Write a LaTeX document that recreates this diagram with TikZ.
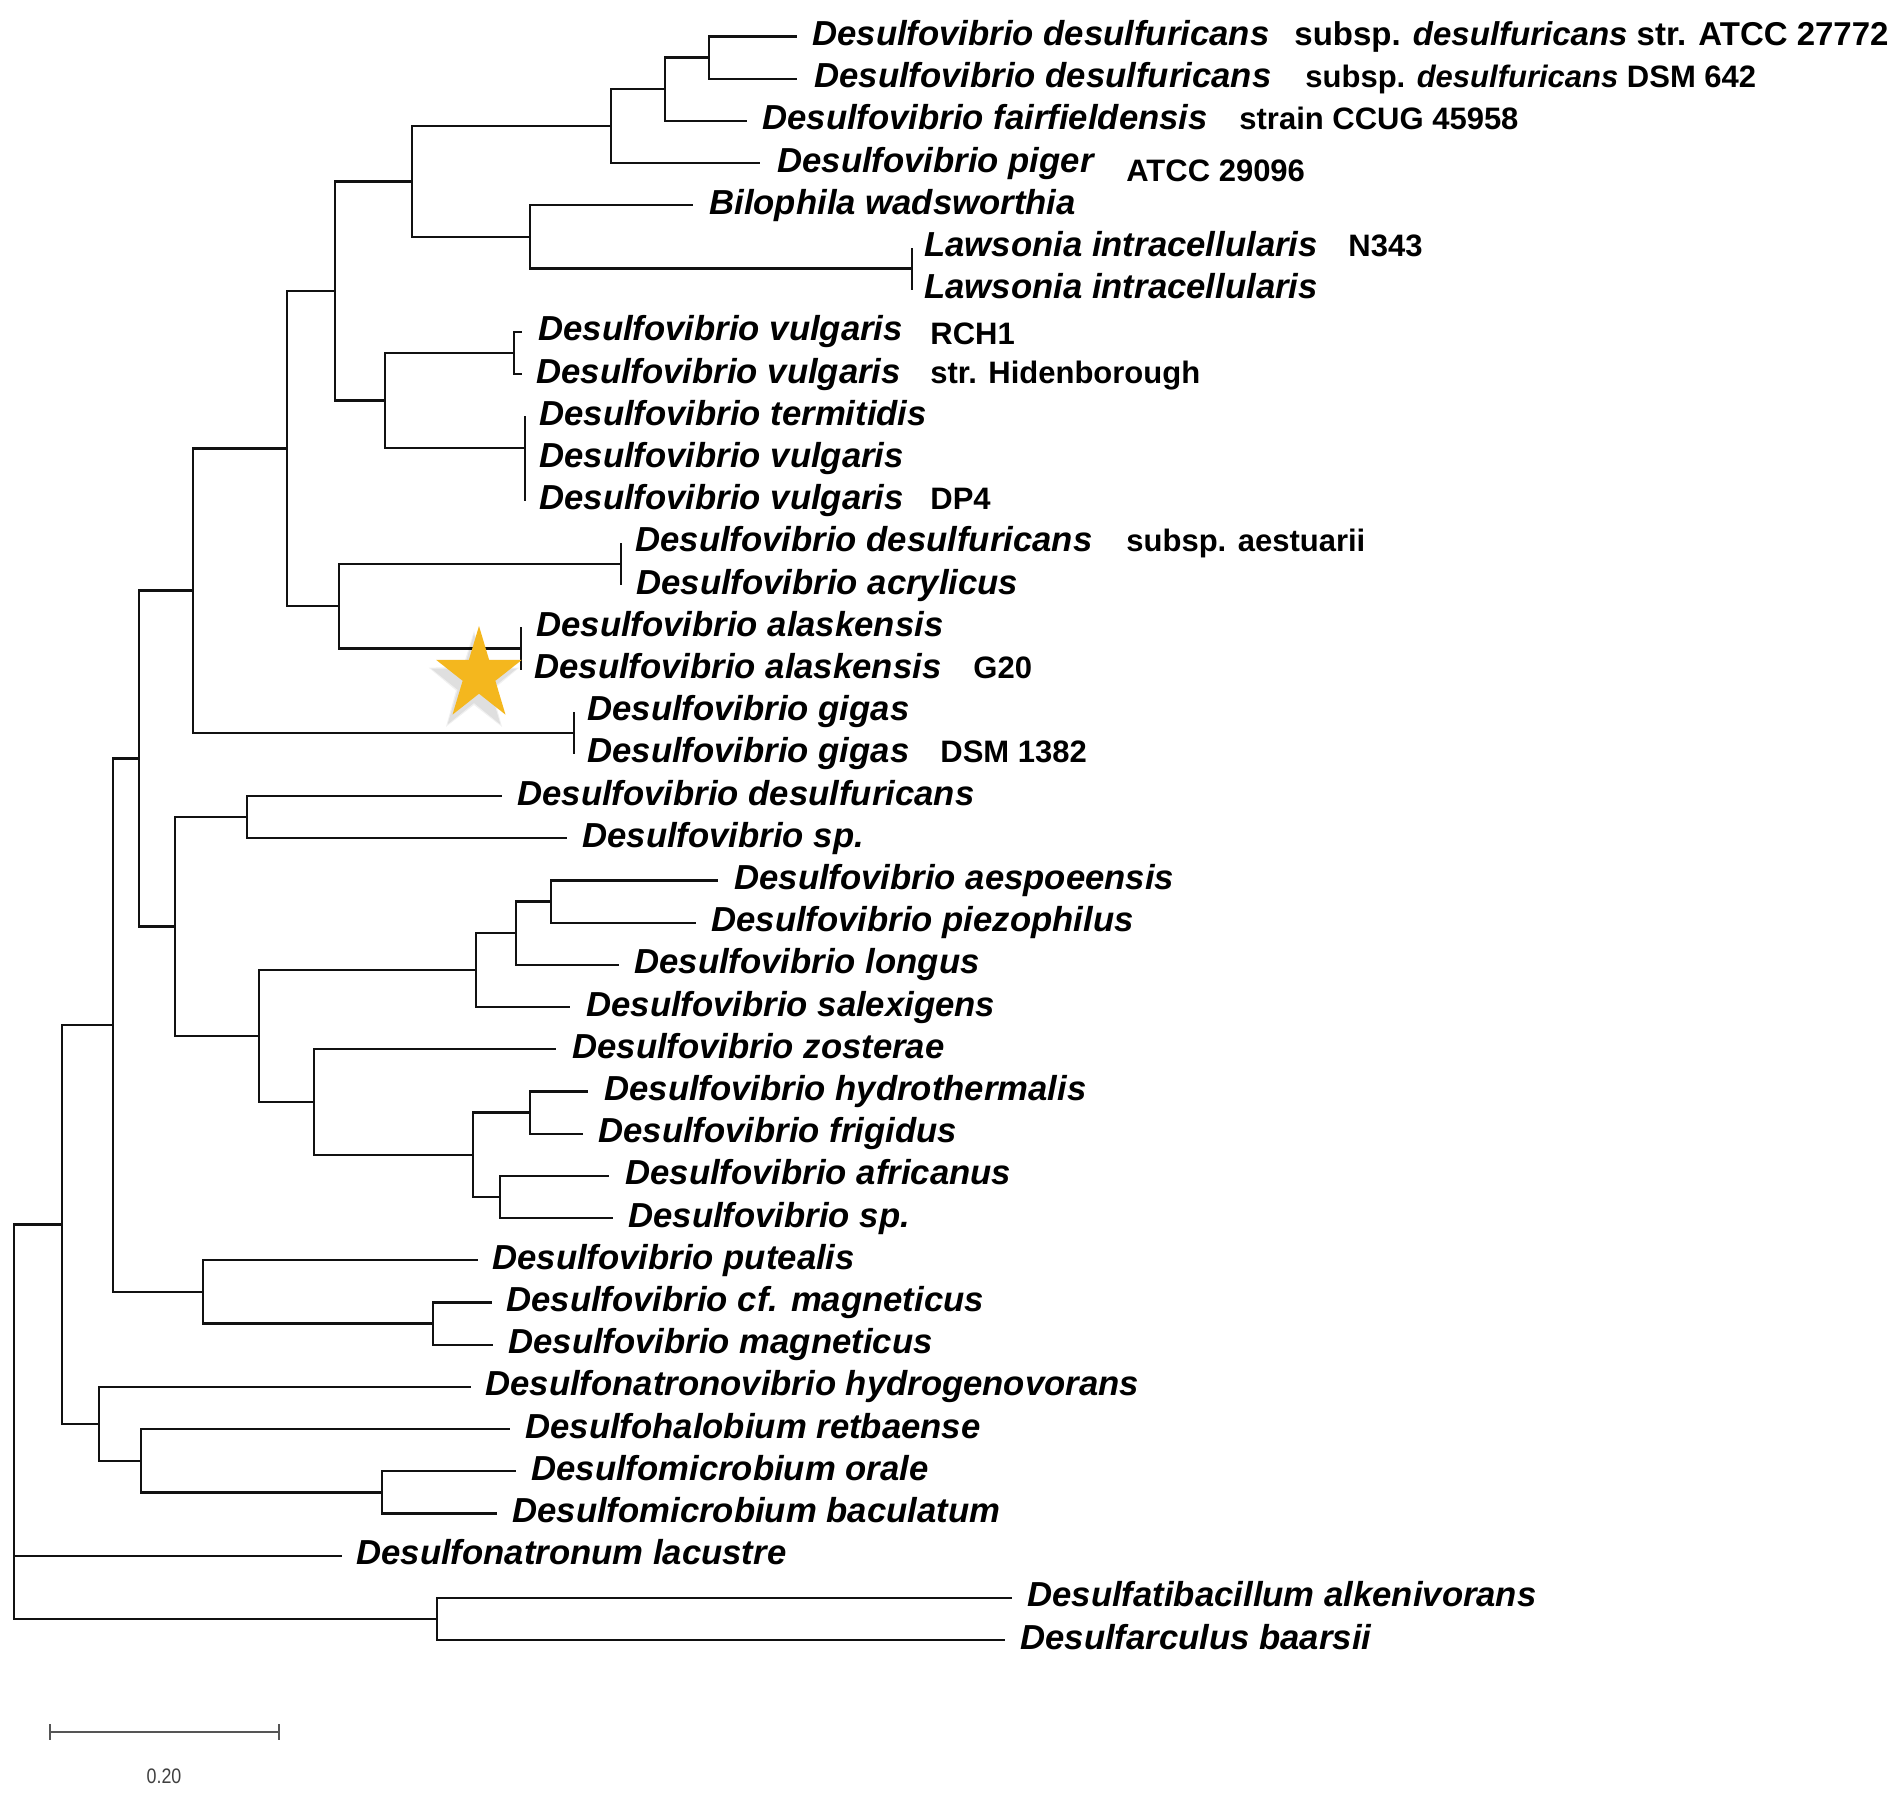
\documentclass[tikz,border=0pt]{standalone}
\usepackage{fontspec}
\setmainfont{Liberation Sans}
\definecolor{stargold}{HTML}{F4B71E}
\definecolor{branch}{HTML}{111111}
\definecolor{scalegray}{HTML}{555555}
\begin{document}
\begin{tikzpicture}[x=0.5pt,y=-0.5pt,
  br/.style={draw=branch, line width=1.15pt},
  sp/.style={anchor=base west, inner sep=0pt, font=\fontsize{17.35}{20}\selectfont\bfseries\itshape},
  st/.style={anchor=base west, inner sep=0pt, font=\fontsize{15.5}{18}\selectfont\bfseries},
  stbig/.style={anchor=base west, inner sep=0pt, font=\fontsize{16.5}{19}\selectfont\bfseries},
]
\fill[white] (0,0) rectangle (1902,1794);
\useasboundingbox (0,0) rectangle (1902,1794);

% ---- leaf tips ----
\coordinate (t1) at (797,36.5);
\coordinate (t2) at (797,78.7);
\coordinate (t3) at (747,120.9);
\coordinate (t4) at (760,163.1);
\coordinate (t5) at (693,205.3);
\coordinate (t6) at (912,247.5);
\coordinate (t7) at (912,289.7);
\coordinate (t8) at (522,331.9);
\coordinate (t9) at (522,374.1);
\coordinate (t10) at (525,416.3);
\coordinate (t11) at (525,458.5);
\coordinate (t12) at (525,500.7);
\coordinate (t13) at (621,542.9);
\coordinate (t14) at (621,585.1);
\coordinate (t15) at (521,627.3);
\coordinate (t16) at (521,669.5);
\coordinate (t17) at (574,711.7);
\coordinate (t18) at (574,753.9);
\coordinate (t19) at (502,796.1);
\coordinate (t20) at (567,838.3);
\coordinate (t21) at (718,880.5);
\coordinate (t22) at (696,922.7);
\coordinate (t23) at (619,964.9);
\coordinate (t24) at (570,1007.1);
\coordinate (t25) at (556,1049.3);
\coordinate (t26) at (588,1091.5);
\coordinate (t27) at (583,1133.7);
\coordinate (t28) at (609,1175.9);
\coordinate (t29) at (613,1218.1);
\coordinate (t30) at (478,1260.3);
\coordinate (t31) at (492,1302.5);
\coordinate (t32) at (493,1344.7);
\coordinate (t33) at (471,1386.9);
\coordinate (t34) at (510,1429.1);
\coordinate (t35) at (516,1471.3);
\coordinate (t36) at (497,1513.5);
\coordinate (t37) at (342,1555.7);
\coordinate (t38) at (1012,1597.9);
\coordinate (t39) at (1005,1640.1);

% ---- internal nodes ----
\coordinate (nA) at (709,57.6);
\coordinate (nB) at (665,89.3);
\coordinate (nC) at (611,126.2);
\coordinate (nF) at (912,268.6);
\coordinate (nE) at (530,237);
\coordinate (nD) at (412,181.6);
\coordinate (nI) at (514,353);
\coordinate (nJ) at (525,448);
\coordinate (nH) at (385,400.5);
\coordinate (nG) at (335,291);
\coordinate (nN) at (621,564);
\coordinate (nO) at (521,648.4);
\coordinate (nL) at (339,606);
\coordinate (nK) at (287,448.5);
\coordinate (nGI) at (574,732.8);
\coordinate (nM) at (193,590.6);
\coordinate (nR) at (247,817.2);
\coordinate (nV) at (551,901.6);
\coordinate (nU) at (516,933.3);
\coordinate (nT) at (476,970.2);
\coordinate (nY) at (530,1112.6);
\coordinate (nZ) at (500,1197);
\coordinate (nX) at (473,1154.8);
\coordinate (nW) at (314,1102);
\coordinate (nS) at (259,1036.1);
\coordinate (nQ) at (175,926.6);
\coordinate (nP) at (139,758.6);
\coordinate (nFF) at (433,1323.6);
\coordinate (nAA) at (203,1292);
\coordinate (nBB) at (113,1025.3);
\coordinate (nHH) at (382,1492.4);
\coordinate (nGG) at (141,1460.8);
\coordinate (nDD) at (99,1423.9);
\coordinate (nCC) at (62,1224.6);
\coordinate (nEE) at (437,1619);
\coordinate (root) at (14,1422);

% ---- branches ----
\draw[br] (nA) |- (t1);  \draw[br] (nA) |- (t2);
\draw[br] (nB) |- (nA);  \draw[br] (nB) |- (t3);
\draw[br] (nC) |- (nB);  \draw[br] (nC) |- (t4);
\draw[br] (nF) |- (t6);  \draw[br] (nF) |- (t7);
\draw[br] (nE) |- (t5);  \draw[br] (nE) |- (nF);
\draw[br] (nD) |- (nC);  \draw[br] (nD) |- (nE);
\draw[br] (nI) |- (t8);  \draw[br] (nI) |- (t9);
\draw[br] (nJ) |- (t10); \draw[br] (nJ) |- (t11); \draw[br] (nJ) |- (t12);
\draw[br] (nH) |- (nI);  \draw[br] (nH) |- (nJ);
\draw[br] (nG) |- (nD);  \draw[br] (nG) |- (nH);
\draw[br] (nN) |- (t13); \draw[br] (nN) |- (t14);
\draw[br] (nO) |- (t15); \draw[br] (nO) |- (t16);
\draw[br] (nL) |- (nN);  \draw[br] (nL) |- (nO);
\draw[br] (nK) |- (nG);  \draw[br] (nK) |- (nL);
\draw[br] (nGI) |- (t17); \draw[br] (nGI) |- (t18);
\draw[br] (nM) |- (nK);  \draw[br] (nM) |- (nGI);
\draw[br] (nR) |- (t19); \draw[br] (nR) |- (t20);
\draw[br] (nV) |- (t21); \draw[br] (nV) |- (t22);
\draw[br] (nU) |- (nV);  \draw[br] (nU) |- (t23);
\draw[br] (nT) |- (nU);  \draw[br] (nT) |- (t24);
\draw[br] (nY) |- (t26); \draw[br] (nY) |- (t27);
\draw[br] (nZ) |- (t28); \draw[br] (nZ) |- (t29);
\draw[br] (nX) |- (nY);  \draw[br] (nX) |- (nZ);
\draw[br] (nW) |- (t25); \draw[br] (nW) |- (nX);
\draw[br] (nS) |- (nT);  \draw[br] (nS) |- (nW);
\draw[br] (nQ) |- (nR);  \draw[br] (nQ) |- (nS);
\draw[br] (nP) |- (nM);  \draw[br] (nP) |- (nQ);
\draw[br] (nFF) |- (t31); \draw[br] (nFF) |- (t32);
\draw[br] (nAA) |- (t30); \draw[br] (nAA) |- (nFF);
\draw[br] (nBB) |- (nP);  \draw[br] (nBB) |- (nAA);
\draw[br] (nHH) |- (t35); \draw[br] (nHH) |- (t36);
\draw[br] (nGG) |- (t34); \draw[br] (nGG) |- (nHH);
\draw[br] (nDD) |- (t33); \draw[br] (nDD) |- (nGG);
\draw[br] (nCC) |- (nBB); \draw[br] (nCC) |- (nDD);
\draw[br] (nEE) |- (t38); \draw[br] (nEE) |- (t39);
\draw[br] (root) |- (nCC); \draw[br] (root) |- (t37); \draw[br] (root) |- (nEE);

% ---- species labels ----
\node[sp] (l1) at (812,45.5) {Desulfovibrio desulfuricans};
\node[sp] (l2) at (814,87.7) {Desulfovibrio desulfuricans};
\node[sp] (l3) at (762,129.9) {Desulfovibrio fairfieldensis};
\node[sp] (l4) at (777,172.1) {Desulfovibrio piger};
\node[sp] (l5) at (709,214.3) {Bilophila wadsworthia};
\node[sp] (l6) at (924,256.5) {Lawsonia intracellularis};
\node[sp] (l7) at (924,298.7) {Lawsonia intracellularis};
\node[sp] (l8) at (538,340.9) {Desulfovibrio vulgaris};
\node[sp] (l9) at (536,383.1) {Desulfovibrio vulgaris};
\node[sp] (l10) at (539,425.3) {Desulfovibrio termitidis};
\node[sp] (l11) at (539,467.5) {Desulfovibrio vulgaris};
\node[sp] (l12) at (539,509.7) {Desulfovibrio vulgaris};
\node[sp] (l13) at (635,551.9) {Desulfovibrio desulfuricans};
\node[sp] (l14) at (636,594.1) {Desulfovibrio acrylicus};
\node[sp] (l15) at (536,636.3) {Desulfovibrio alaskensis};
\node[sp] (l16) at (534,678.5) {Desulfovibrio alaskensis};
\node[sp] (l17) at (587,720.7) {Desulfovibrio gigas};
\node[sp] (l18) at (587,762.9) {Desulfovibrio gigas};
\node[sp] (l19) at (517,805.1) {Desulfovibrio desulfuricans};
\node[sp] (l20) at (582,847.3) {Desulfovibrio sp.};
\node[sp] (l21) at (734,889.5) {Desulfovibrio aespoeensis};
\node[sp] (l22) at (711,931.7) {Desulfovibrio piezophilus};
\node[sp] (l23) at (634,973.9) {Desulfovibrio longus};
\node[sp] (l24) at (586,1016.1) {Desulfovibrio salexigens};
\node[sp] (l25) at (572,1058.3) {Desulfovibrio zosterae};
\node[sp] (l26) at (604,1100.5) {Desulfovibrio hydrothermalis};
\node[sp] (l27) at (598,1142.7) {Desulfovibrio frigidus};
\node[sp] (l28) at (625,1184.9) {Desulfovibrio africanus};
\node[sp] (l29) at (628,1227.1) {Desulfovibrio sp.};
\node[sp] (l30) at (492,1269.3) {Desulfovibrio putealis};
\node[sp] (l31) at (506,1311.5) {Desulfovibrio cf. magneticus};
\node[sp] (l32) at (508,1353.7) {Desulfovibrio magneticus};
\node[sp] (l33) at (485,1395.9) {Desulfonatronovibrio hydrogenovorans};
\node[sp] (l34) at (525,1438.1) {Desulfohalobium retbaense};
\node[sp] (l35) at (531,1480.3) {Desulfomicrobium orale};
\node[sp] (l36) at (512,1522.5) {Desulfomicrobium baculatum};
\node[sp] (l37) at (356,1564.7) {Desulfonatronum lacustre};
\node[sp] (l38) at (1027,1606.9) {Desulfatibacillum alkenivorans};
\node[sp] (l39) at (1020,1649.1) {Desulfarculus baarsii};

% ---- strain labels ----
\node[stbig] (s1) at (1294,45.5) {subsp. \textit{desulfuricans} str. ATCC 27772};
\node[st] (s2) at (1305,87.7) {subsp. \textit{desulfuricans} DSM 642};
\node[st] (s3) at (1239,129.9) {strain CCUG 45958};
\node[st] (s4) at (1126,181) {ATCC 29096};
\node[st] (s6) at (1348,256.5) {N343};
\node[st] (s8) at (930,344) {RCH1};
\node[st] (s9) at (930,383.1) {str. Hidenborough};
\node[st] (s12) at (930,509.7) {DP4};
\node[st] (s13) at (1126,551.9) {subsp. aestuarii};
\node[st] (s16) at (973,678.5) {G20};
\node[st] (s18) at (940,762.9) {DSM 1382};

% ---- star ----
\begin{scope}[shift={(474,684)}, xscale=0.9]
  \fill[black, opacity=0.06] (-90:53) -- (-54:21) -- (-18:53) -- (18:21) -- (54:53) -- (90:21)
    -- (126:53) -- (162:21) -- (198:53) -- (234:21) -- cycle;
  \fill[black, opacity=0.07] (-90:50) -- (-54:19) -- (-18:50) -- (18:19) -- (54:50) -- (90:19)
    -- (126:50) -- (162:19) -- (198:50) -- (234:19) -- cycle;
\end{scope}
\begin{scope}[shift={(479,675)}, xscale=0.92]
  \fill[stargold] (-90:49) -- (-54:18.7) -- (-18:49) -- (18:18.7) -- (54:49) -- (90:18.7)
    -- (126:49) -- (162:18.7) -- (198:49) -- (234:18.7) -- cycle;
\end{scope}

% ---- scale bar ----
\coordinate (sbL) at (50,1732);
\coordinate (sbR) at (279,1732);
\draw[draw=scalegray, line width=1.1pt] (sbL) -- (sbR);
\draw[draw=scalegray, line width=1.2pt] (sbL) ++(0,-8) -- ++(0,16);
\draw[draw=scalegray, line width=1.2pt] (sbR) ++(0,-8) -- ++(0,16);
\node[anchor=base, inner sep=0pt, text=black!75, font=\fontsize{10.5}{12}\selectfont] (sblab) at (164,1783) {\scalebox{0.85}[1]{0.20}};
\end{tikzpicture}
\end{document}
